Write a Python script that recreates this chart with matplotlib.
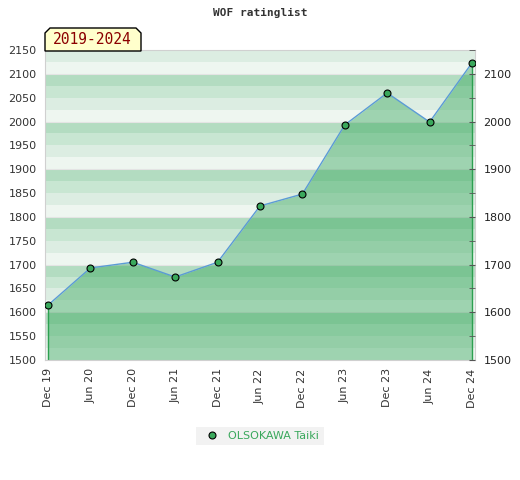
import matplotlib
matplotlib.use('Agg')
import matplotlib.pyplot as plt
from matplotlib.patches import Polygon
from matplotlib.lines import Line2D

# Rating data (half-year steps)
dates = ['Dec 19', 'Jun 20', 'Dec 20', 'Jun 21', 'Dec 21', 'Jun 22',
         'Dec 22', 'Jun 23', 'Dec 23', 'Jun 24', 'Dec 24']
ratings = [1615, 1693, 1705, 1674, 1705, 1823, 1848, 1993, 2060, 1999, 2123]
player = 'OLSOKAWA Taiki'
period = '2019-2024'
title = 'WOF ratinglist'

y_min, y_max = 1500, 2150
band_colors = ['#eef6f0', '#dcede2', '#c8e6d2', '#b3dcc1']

W, H = 520, 480
fig = plt.figure(figsize=(W / 100, H / 100), dpi=100)
ax = fig.add_axes([45 / W, 1 - 360 / H, 430 / W, 310 / H])

x = list(range(len(dates)))

# background bands, 4 per hundred
for y0 in range(y_min, y_max, 25):
    k = ((y0 - y_min) // 25) % 4
    ax.axhspan(y0, y0 + 25, color=band_colors[k], lw=0, zorder=0)
for y0 in range(1600, y_max, 100):
    ax.axhline(y0, color='#e4e4e4', lw=0.8, zorder=0.5)

ax.fill_between(x, ratings, y_min, color='#28a050', alpha=0.4, lw=0, zorder=1)
ax.plot(x, ratings, color='#5b9bd5', lw=1, zorder=2)
ax.vlines([x[0], x[-1]], y_min, [ratings[0], ratings[-1]], color='#2ca050', lw=1, zorder=2)
ax.plot(x, ratings, 'o', color='#3aa85c', mec='black', mew=0.8, ms=5, zorder=3)

pad = 3 / 42.4
ax.set_xlim(-pad, len(dates) - 1 + pad)
ax.set_ylim(y_min, y_max)
ax.set_xticks(x)
ax.set_xticklabels(dates, rotation=90, fontsize=8, color='#333333')
ax.set_yticks(range(y_min, y_max + 1, 50))
ax.tick_params(axis='y', length=0, labelsize=8, labelcolor='#333333', pad=6)
ax.tick_params(axis='x', length=0, pad=6)
for s in ax.spines.values():
    s.set_color('#d0d0d0')

ax2 = ax.twinx()
ax2.set_ylim(y_min, y_max)
ax2.set_yticks(range(y_min, 2101, 100))
ax2.set_yticks(range(1550, 2151, 100), minor=True)
ax2.tick_params(axis='y', which='both', direction='in', length=4, color='#555555',
                labelsize=8, labelcolor='#222222', pad=6)
for s in ax2.spines.values():
    s.set_visible(False)

fig.text(0.5, 1 - 13 / H, title, ha='center', va='center', fontsize=8,
         family='DejaVu Sans Mono', fontweight='bold', color='#333333')

# period label box with cut top corners
pts = [(45, 51), (45, 33), (50, 28), (136, 28), (141, 33), (141, 51)]
poly = Polygon([(px / W, 1 - py / H) for px, py in pts], closed=True,
               transform=fig.transFigure, facecolor='#ffffcc', edgecolor='black',
               lw=1, zorder=5)
fig.patches.append(poly)
fig.text(92 / W, 1 - 40 / H, period, ha='center', va='center', fontsize=10.5,
         family='DejaVu Sans Mono', color='#8b0000', zorder=6)

handle = Line2D([], [], marker='o', ls='none', color='#3aa85c', mec='black', mew=0.8, ms=5)
leg = fig.legend([handle], [player], loc='center', bbox_to_anchor=(0.5, 1 - 436 / H),
                 frameon=True, fontsize=8, handletextpad=0.5, borderpad=0.4,
                 fancybox=False)
leg.get_frame().set_facecolor('#efefef')
leg.get_frame().set_edgecolor('none')
for t in leg.get_texts():
    t.set_color('#3aa85c')

fig.savefig('out.png', dpi=100)
